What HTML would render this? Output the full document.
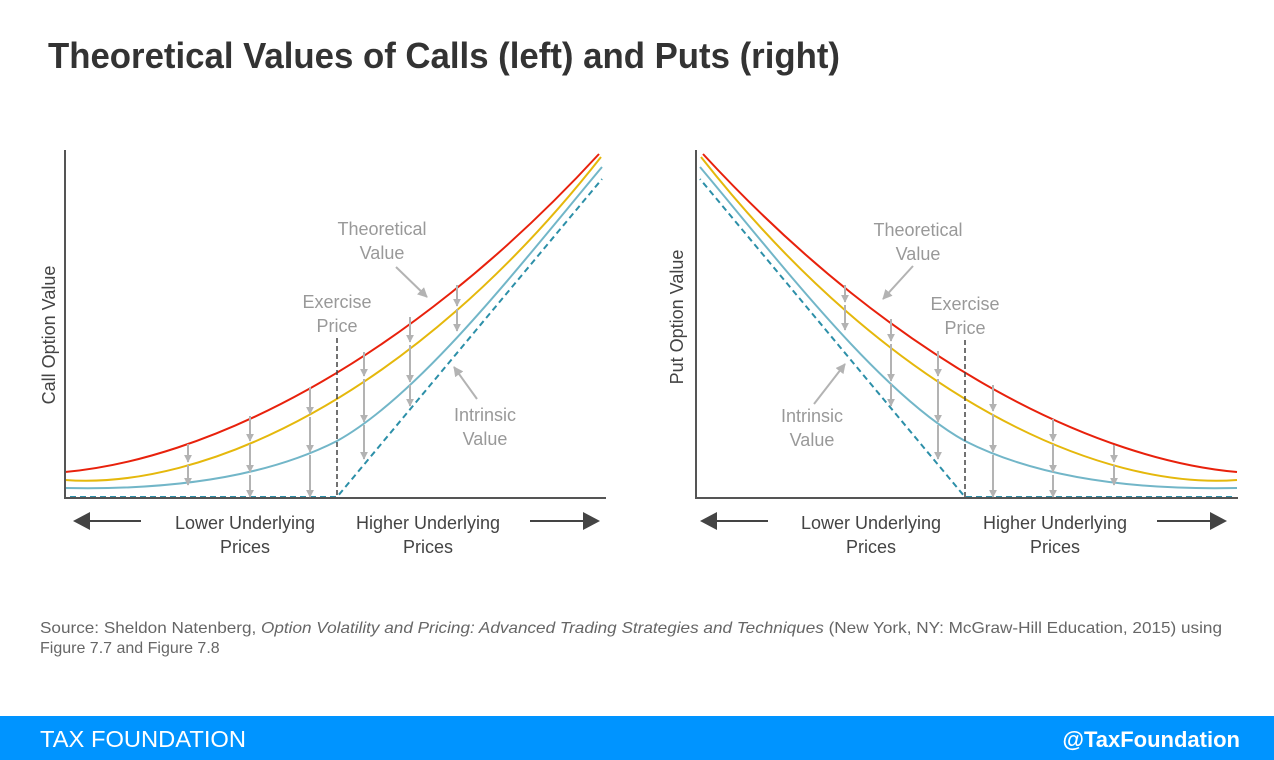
<!DOCTYPE html>
<html><head><meta charset="utf-8"><style>
html,body{margin:0;padding:0;background:#fff;}
svg{display:block;}
text{font-family:"Liberation Sans",sans-serif;}
</style></head><body>
<svg width="1274" height="760" viewBox="0 0 1274 760" xmlns="http://www.w3.org/2000/svg">
<defs>
<marker id="ah" viewBox="0 0 10 10" refX="9" refY="5" markerWidth="4" markerHeight="4" orient="auto"><path d="M0,0 L10,5 L0,10 z" fill="#b3b3b3"/></marker>
<marker id="ah2" viewBox="0 0 10 10" refX="9" refY="5" markerWidth="5" markerHeight="5" orient="auto"><path d="M0,0 L10,5 L0,10 z" fill="#b3b3b3"/></marker>
<g id="curves" fill="none" stroke-width="2">
<path stroke="#e8210c" d="M65,472 C200,460 400,370 599,154"/>
<path stroke="#e5b80c" d="M65,480 C200,490 410,400 601,157"/>
<path stroke="#72b6c8" d="M65,488 C160,490 260,480 337,441 C420,395 520,265 602,167"/>
<polyline stroke="#2c8fa8" stroke-dasharray="6,4" points="70,497 337,497 602,179"/>
</g>
</defs>
<text x="48" y="68" font-size="36" font-weight="bold" fill="#333" textLength="792" lengthAdjust="spacingAndGlyphs">Theoretical Values of Calls (left) and Puts (right)</text>

<!-- LEFT CHART -->
<use href="#curves"/>
<g fill="none" stroke-width="2">
<line x1="337" y1="338" x2="337" y2="498" stroke="#444" stroke-width="1.5" stroke-dasharray="5,3"/>
<polyline stroke="#555" points="65,150 65,498 606,498"/>
</g>
<g stroke="#b3b3b3" stroke-width="2" marker-end="url(#ah)">
<line x1="188" y1="444" x2="188" y2="462"/><line x1="188" y1="465" x2="188" y2="485"/>
<line x1="250" y1="416" x2="250" y2="441"/><line x1="250" y1="444" x2="250" y2="472"/><line x1="250" y1="475" x2="250" y2="497"/>
<line x1="310" y1="387" x2="310" y2="414"/><line x1="310" y1="417" x2="310" y2="452"/><line x1="310" y1="455" x2="310" y2="497"/>
<line x1="364" y1="352" x2="364" y2="376"/><line x1="364" y1="379" x2="364" y2="422"/><line x1="364" y1="425" x2="364" y2="459"/>
<line x1="410" y1="317" x2="410" y2="342"/><line x1="410" y1="345" x2="410" y2="382"/><line x1="410" y1="385" x2="410" y2="406"/>
<line x1="457" y1="285" x2="457" y2="306"/><line x1="457" y1="309" x2="457" y2="331"/>
</g>
<g stroke="#b3b3b3" stroke-width="2" marker-end="url(#ah2)">
<line x1="396" y1="267" x2="427" y2="297"/>
<line x1="477" y1="399" x2="454" y2="367"/>
</g>
<g font-size="18" fill="#999" text-anchor="middle">
<text x="382" y="235">Theoretical</text><text x="382" y="259">Value</text>
<text x="337" y="308">Exercise</text><text x="337" y="332">Price</text>
<text x="485" y="421">Intrinsic</text><text x="485" y="445">Value</text>
</g>
<text x="55" y="335" font-size="18" fill="#444" text-anchor="middle" transform="rotate(-90 55 335)">Call Option Value</text>
<g font-size="18" fill="#444" text-anchor="middle">
<text x="245" y="529">Lower Underlying</text><text x="245" y="553">Prices</text>
<text x="428" y="529">Higher Underlying</text><text x="428" y="553">Prices</text>
</g>
<line x1="88" y1="521" x2="141" y2="521" stroke="#444" stroke-width="2"/>
<path d="M73,521 L90,512 L90,530 z" fill="#444"/>
<line x1="530" y1="521" x2="585" y2="521" stroke="#444" stroke-width="2"/>
<path d="M600,521 L583,512 L583,530 z" fill="#444"/>

<!-- RIGHT CHART -->
<use href="#curves" transform="translate(1302,0) scale(-1,1)"/>
<g fill="none" stroke-width="2">
<line x1="965" y1="340" x2="965" y2="498" stroke="#444" stroke-width="1.5" stroke-dasharray="5,3"/>
<polyline stroke="#555" points="696,150 696,498 1238,498"/>
</g>
<g stroke="#b3b3b3" stroke-width="2" marker-end="url(#ah)">
<line x1="845" y1="285" x2="845" y2="302"/><line x1="845" y1="305" x2="845" y2="330"/>
<line x1="891" y1="319" x2="891" y2="341"/><line x1="891" y1="344" x2="891" y2="381"/><line x1="891" y1="384" x2="891" y2="406"/>
<line x1="938" y1="351" x2="938" y2="376"/><line x1="938" y1="379" x2="938" y2="422"/><line x1="938" y1="425" x2="938" y2="459"/>
<line x1="993" y1="385" x2="993" y2="411"/><line x1="993" y1="414" x2="993" y2="452"/><line x1="993" y1="455" x2="993" y2="497"/>
<line x1="1053" y1="419" x2="1053" y2="441"/><line x1="1053" y1="444" x2="1053" y2="472"/><line x1="1053" y1="475" x2="1053" y2="497"/>
<line x1="1114" y1="445" x2="1114" y2="462"/><line x1="1114" y1="465" x2="1114" y2="485"/>
</g>
<g stroke="#b3b3b3" stroke-width="2" marker-end="url(#ah2)">
<line x1="913" y1="266" x2="883" y2="299"/>
<line x1="814" y1="404" x2="845" y2="364"/>
</g>
<g font-size="18" fill="#999" text-anchor="middle">
<text x="918" y="236">Theoretical</text><text x="918" y="260">Value</text>
<text x="965" y="310">Exercise</text><text x="965" y="334">Price</text>
<text x="812" y="422">Intrinsic</text><text x="812" y="446">Value</text>
</g>
<text x="683" y="317" font-size="18" fill="#444" text-anchor="middle" transform="rotate(-90 683 317)">Put Option Value</text>
<g font-size="18" fill="#444" text-anchor="middle">
<text x="871" y="529">Lower Underlying</text><text x="871" y="553">Prices</text>
<text x="1055" y="529">Higher Underlying</text><text x="1055" y="553">Prices</text>
</g>
<line x1="715" y1="521" x2="768" y2="521" stroke="#444" stroke-width="2"/>
<path d="M700,521 L717,512 L717,530 z" fill="#444"/>
<line x1="1157" y1="521" x2="1212" y2="521" stroke="#444" stroke-width="2"/>
<path d="M1227,521 L1210,512 L1210,530 z" fill="#444"/>

<!-- SOURCE -->
<text x="40" y="633" font-size="16" fill="#666" textLength="1182" lengthAdjust="spacingAndGlyphs">Source: Sheldon Natenberg, <tspan font-style="italic">Option Volatility and Pricing: Advanced Trading Strategies and Techniques</tspan> (New York, NY: McGraw-Hill Education, 2015) using</text>
<text x="40" y="653" font-size="16" fill="#666">Figure 7.7 and Figure 7.8</text>

<!-- FOOTER -->
<rect x="0" y="716" width="1274" height="44" fill="#0094ff"/>
<text x="40" y="747" font-size="23" fill="#fff" textLength="206" lengthAdjust="spacingAndGlyphs">TAX FOUNDATION</text>
<text x="1240" y="747" font-size="22" font-weight="bold" fill="#fff" text-anchor="end">@TaxFoundation</text>
</svg>
</body></html>
